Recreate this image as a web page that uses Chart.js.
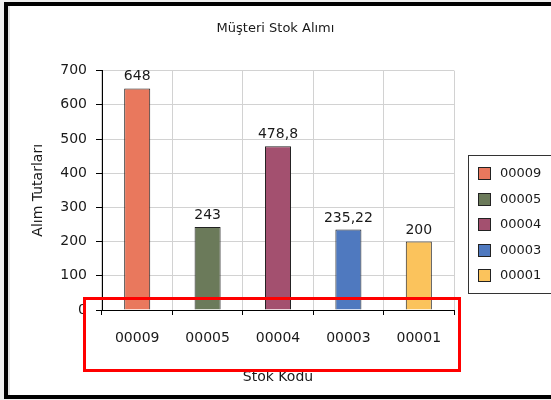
<!DOCTYPE html>
<html>
<head>
<meta charset="utf-8">
<script src="https://cdn.jsdelivr.net/npm/chart.js@4"></script>
<style>
    body { margin: 0; background: #efefef; overflow: hidden; }
    #frame {
        position: absolute; left: 4px; top: 2px;
        width: 600px; height: 389px;
        border: 4px solid #000; border-right: none;
        background: #fff;
        box-shadow: inset 2px 0 0 #e4e4e4;
    }
    #wrap { position: absolute; left: 0; top: 0; width: 551px; height: 400px; }
    #mark {
        position: absolute; left: 83px; top: 297px;
        width: 378px; height: 75px;
        border: 3px solid #ff0000; box-sizing: border-box;
    }
</style>
</head>
<body>
<div id="frame"></div>
<div id="wrap"><canvas id="chart" width="551" height="400"></canvas></div>
<div id="mark"></div>
<script>
// Chart data
const stockCodes = ['00009', '00005', '00004', '00003', '00001'];
const purchaseAmounts = [648, 243, 478.8, 235.22, 200];
const barColors = ['#e9785d', '#6b7a5a', '#a3506f', '#4f79bf', '#fbc35c'];
const yTicks = [0, 100, 200, 300, 400, 500, 600, 700];

const FONT = 'DejaVu Sans';
const TEXT = '#1a1a1a';

// Turkish style decimal comma
function formatValue(v) {
    return String(v).replace('.', ',');
}

// Value labels above each bar
const valueLabels = {
    id: 'valueLabels',
    afterDatasetsDraw(chart) {
        const ctx = chart.ctx;
        const meta = chart.getDatasetMeta(0);
        ctx.save();
        ctx.font = '14px "' + FONT + '"';
        ctx.fillStyle = TEXT;
        ctx.textAlign = 'center';
        ctx.textBaseline = 'alphabetic';
        meta.data.forEach((bar, i) => {
            ctx.fillText(formatValue(purchaseAmounts[i]), bar.x, bar.y - 8);
        });
        ctx.restore();
    }
};

// Boxed legend on the right, one entry per stock code
const boxLegend = {
    id: 'boxLegend',
    afterDraw(chart) {
        const ctx = chart.ctx;
        const left = chart.chartArea.right + 14;
        const top = 155;
        const bottom = 293;
        ctx.save();
        ctx.strokeStyle = '#333';
        ctx.lineWidth = 1;
        ctx.strokeRect(left + 0.5, top + 0.5, 200, bottom - top);
        ctx.font = '13px "' + FONT + '"';
        ctx.textBaseline = 'middle';
        stockCodes.forEach((code, i) => {
            const cy = 173 + i * 25.5;
            ctx.fillStyle = barColors[i];
            ctx.fillRect(left + 10, Math.round(cy - 6), 13, 13);
            ctx.strokeStyle = '#222';
            ctx.strokeRect(left + 10.5, Math.round(cy - 6) + 0.5, 12, 12);
            ctx.fillStyle = TEXT;
            ctx.fillText(code, left + 32, cy + 1);
        });
        ctx.restore();
    }
};

const ctx = document.getElementById('chart').getContext('2d');
const chart = new Chart(ctx, {
    type: 'bar',
    data: {
        labels: stockCodes,
        datasets: [{
            label: 'Alım Tutarları',
            data: purchaseAmounts,
            backgroundColor: barColors,
            borderColor: '#222',
            borderWidth: 1,
            barPercentage: 0.37,
            categoryPercentage: 1
        }]
    },
    options: {
        responsive: false,
        animation: false,
        layout: {
            padding: 0
        },
        plugins: {
            legend: { display: false },
            tooltip: { enabled: false },
            title: {
                display: true,
                text: 'Müşteri Stok Alımı',
                color: TEXT,
                font: { family: FONT, size: 13, weight: 'normal' },
                padding: { top: 21, bottom: 34 }
            }
        },
        scales: {
            x: {
                grid: {
                    color: '#d2d2d2',
                    tickColor: '#000',
                    tickLength: 5,
                    offset: true
                },
                border: { color: '#000', width: 1 },
                ticks: {
                    color: TEXT,
                    font: { family: FONT, size: 14 },
                    padding: 15,
                    maxRotation: 0
                },
                title: {
                    display: true,
                    text: 'Stok Kodu',
                    color: TEXT,
                    font: { family: FONT, size: 14 },
                    padding: { top: 0, bottom: 14 }
                },
                afterFit(scale) { scale.height = 90; }
            },
            y: {
                min: yTicks[0],
                max: yTicks[yTicks.length - 1],
                afterBuildTicks(scale) {
                    scale.ticks = yTicks.map(v => ({ value: v }));
                },
                grid: {
                    color: '#d2d2d2',
                    tickColor: '#000',
                    tickLength: 6
                },
                border: { color: '#000', width: 1 },
                ticks: {
                    color: TEXT,
                    font: { family: FONT, size: 14 },
                    padding: 9
                },
                title: {
                    display: true,
                    text: 'Alım Tutarları',
                    color: TEXT,
                    font: { family: FONT, size: 14 },
                    padding: { top: 30, bottom: 0 }
                },
                afterFit(scale) { scale.width = 102; }
            },
            // empty right-hand axis that reserves room for the legend box
            legendSpace: {
                type: 'linear',
                position: 'right',
                grid: { display: false, drawTicks: false },
                border: { display: false },
                ticks: { display: false },
                afterFit(scale) { scale.width = 97; }
            }
        }
    },
    plugins: [valueLabels, boxLegend]
});
</script>
</body>
</html>
